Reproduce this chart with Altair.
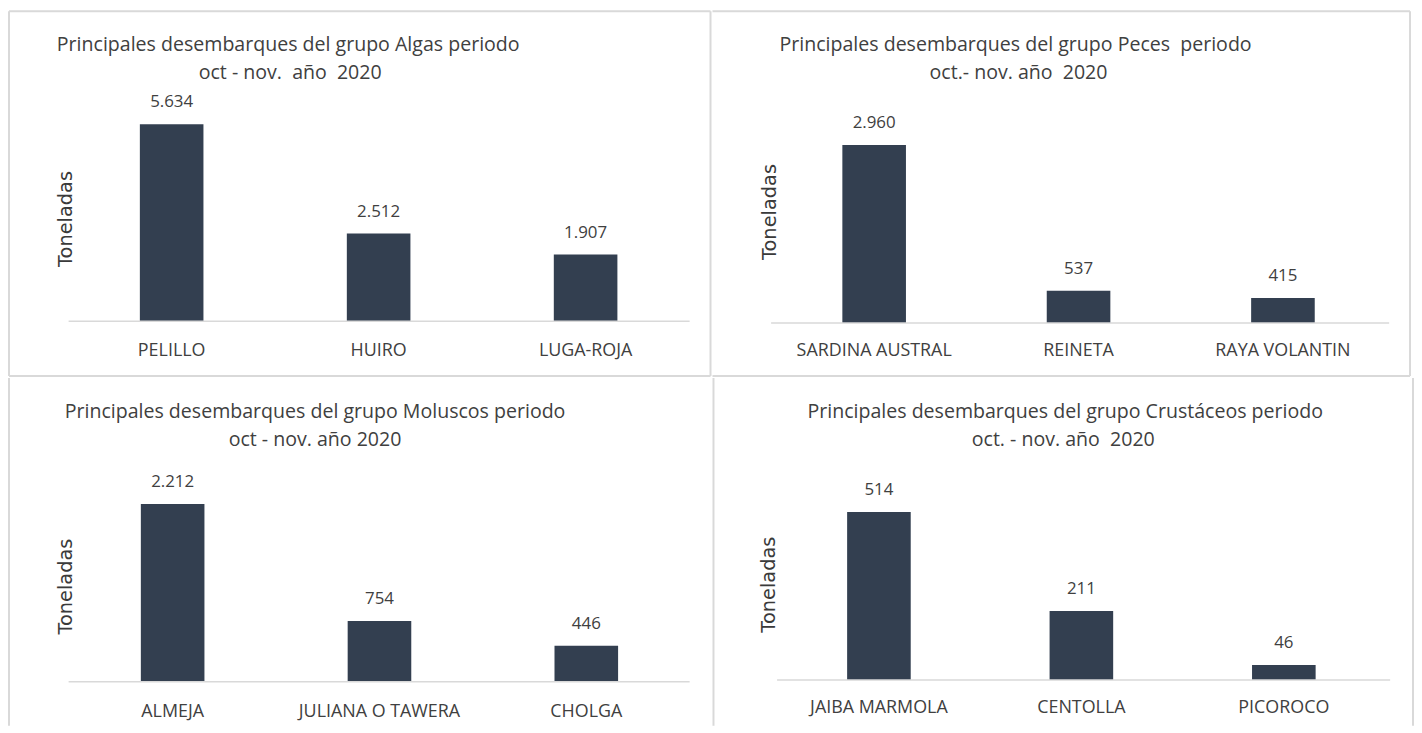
import altair as alt
import pandas as pd

# ---- data ----
algas_cat = ["PELILLO", "HUIRO", "LUGA-ROJA"]
algas_val = [5634, 2512, 1907]
peces_cat = ["SARDINA AUSTRAL", "REINETA", "RAYA VOLANTIN"]
peces_val = [2960, 537, 415]
moluscos_cat = ["ALMEJA", "JULIANA O TAWERA", "CHOLGA"]
moluscos_val = [2212, 754, 446]
crust_cat = ["JAIBA MARMOLA", "CENTOLLA", "PICOROCO"]
crust_val = [514, 211, 46]

NB = "\u00a0"
titles = [
    ("Principales desembarques del grupo Algas periodo", f"oct - nov. {NB}año {NB}2020"),
    (f"Principales desembarques del grupo Peces {NB}periodo", f"oct.- nov. año {NB}2020"),
    ("Principales desembarques del grupo Moluscos periodo", "oct - nov. año 2020"),
    ("Principales desembarques del grupo Crustáceos periodo", f"oct. - nov. año {NB}2020"),
]
y_title = "Toneladas"

BAR = "#333F50"
TXT = "#404040"
GRID = "#D9D9D9"
FONT = "Open Sans"

# layout parameters per panel (panel size, baseline, px per unit, band step, first band centre)
layout = [
    dict(W=706, H=367, base=312.0, k=0.0352, s=208.3, c1=163.7, t1=281, t2=283, ty=34,
         yl=(57, 209), caty=342, bx=(60, 685), edges=("top", "left", "right", "bottom")),
    dict(W=702, H=367, base=313.7, k=0.0605, s=205.7, c1=162.7, t1=305, t2=308, ty=34,
         yl=(58, 202), caty=342, bx=(59, 681), edges=("top", "right", "bottom")),
    dict(W=709, H=350, base=305.7, k=0.0809, s=208.15, c1=164.7, t1=308, t2=308, ty=34,
         yl=(57, 210), caty=336, bx=(60, 685), edges=("left", "right")),
    dict(W=703, H=350, base=304.0, k=0.329, s=203.75, c1=165.5, t1=353, t2=351, ty=34,
         yl=(55, 208), caty=332, bx=(63, 680), edges=("right",)),
]

series = [(algas_cat, algas_val), (peces_cat, peces_val),
          (moluscos_cat, moluscos_val), (crust_cat, crust_val)]


def fmt(v):
    return f"{v:,}".replace(",", ".")


def panel(cats, vals, title, L):
    df = pd.DataFrame({"cat": cats, "val": vals, "lab": [fmt(v) for v in vals]})
    W, H, s, c1 = L["W"], L["H"], L["s"], L["c1"]
    po = (W / s - 3) / 2
    al = (c1 - s / 2) / (W - 3 * s)
    ymin = -(H - L["base"]) / L["k"]
    ymax = L["base"] / L["k"]
    yscale = alt.Scale(domain=[ymin, ymax], zero=False, nice=False)
    xenc = alt.X("cat:N", sort=cats, axis=None,
                 scale=alt.Scale(paddingInner=0, paddingOuter=po, align=al))
    yenc = alt.Y("val:Q", axis=None, scale=yscale)
    base = alt.Chart(df)
    bars = base.mark_bar(width=64, color=BAR).encode(x=xenc, y=yenc)
    labels = base.mark_text(dy=-22, baseline="middle", fontSize=17, font=FONT,
                            color=TXT).encode(x=xenc, y=yenc, text="lab:N")
    catlab = base.mark_text(baseline="middle", fontSize=18, font=FONT, color=TXT).encode(
        x=xenc, y=alt.value(L["caty"]), text="cat:N")
    one = pd.DataFrame({"zero": [0], "t1": [title[0]], "t2": [title[1]], "yt": [y_title]})
    deco = alt.Chart(one)
    rule = deco.mark_rule(color=GRID, strokeWidth=1.5).encode(
        x=alt.value(L["bx"][0]), x2=alt.value(L["bx"][1]),
        y=alt.Y("zero:Q", axis=None, scale=yscale))
    t1 = deco.mark_text(fontSize=19.7, font=FONT, color=TXT, align="center",
                        baseline="middle", x=L["t1"], y=L["ty"]).encode(text="t1:N")
    t2 = deco.mark_text(fontSize=19.7, font=FONT, color=TXT, align="center",
                        baseline="middle", x=L["t2"], y=L["ty"] + 28).encode(text="t2:N")
    yl = deco.mark_text(fontSize=19.5, font="DejaVu Sans", color="#3a3a3a", angle=270,
                        align="center", baseline="middle",
                        x=L["yl"][0], y=L["yl"][1]).encode(text="yt:N")
    layers = [bars, rule, labels, catlab, t1, t2, yl]
    # panel frame edges
    for e in L["edges"]:
        if e == "top":
            enc = dict(x=alt.value(0), x2=alt.value(W), y=alt.value(0))
        elif e == "bottom":
            enc = dict(x=alt.value(0), x2=alt.value(W), y=alt.value(H))
        elif e == "left":
            enc = dict(x=alt.value(0), y=alt.value(0), y2=alt.value(H))
        else:
            enc = dict(x=alt.value(W), y=alt.value(0), y2=alt.value(H))
        layers.append(deco.mark_rule(color=GRID, strokeWidth=2).encode(**enc))
    return alt.layer(*layers).properties(width=W, height=H)


p = [panel(c, v, t, L) for (c, v), t, L in zip(series, titles, layout)]

chart = alt.vconcat(
    alt.hconcat(p[0], p[1], spacing=0),
    alt.hconcat(p[2], p[3], spacing=0),
    spacing=0,
).properties(padding=0).configure_view(stroke=None)

chart.save("out.html", embed_options={"renderer": "svg", "actions": False})
